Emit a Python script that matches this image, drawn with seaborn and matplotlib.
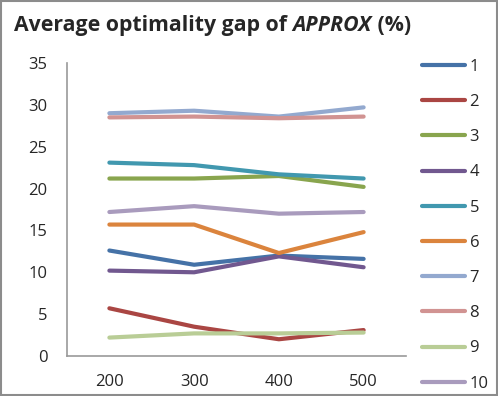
import pandas as pd
import matplotlib
matplotlib.use("Agg")
import matplotlib.pyplot as plt
import seaborn as sns

sizes = ["200", "300", "400", "500"]
series = ["1", "2", "3", "4", "5", "6", "7", "8", "9", "10"]
gap_1 = [12.6, 10.9, 12.0, 11.6]
gap_2 = [5.7, 3.5, 2.0, 3.1]
gap_3 = [21.2, 21.2, 21.5, 20.2]
gap_4 = [10.2, 10.0, 11.9, 10.6]
gap_5 = [23.1, 22.8, 21.7, 21.2]
gap_6 = [15.7, 15.7, 12.3, 14.8]
gap_7 = [29.0, 29.3, 28.6, 29.7]
gap_8 = [28.5, 28.6, 28.4, 28.6]
gap_9 = [2.2, 2.7, 2.7, 2.8]
gap_10 = [17.2, 17.9, 17.0, 17.2]
colores = ["#4572A7", "#AA4643", "#89A54E", "#71588F", "#4198AF",
           "#DB843D", "#93A9CF", "#D19392", "#B9CD96", "#A99BBD"]

todos = [gap_1, gap_2, gap_3, gap_4, gap_5, gap_6, gap_7, gap_8, gap_9, gap_10]
filas = []
for s, vals in zip(series, todos):
    for x, v in zip(sizes, vals):
        filas.append({"size": x, "gap": v, "serie": s})
df = pd.DataFrame(filas)

sns.set_style("white")
plt.rcParams["font.family"] = ["Open Sans", "DejaVu Sans"]

fig = plt.figure(figsize=(4.98, 3.96), dpi=100)
ax = fig.add_axes([67 / 498, 1 - 356 / 396, 339 / 498, 293 / 396])

sns.lineplot(data=df, x="size", y="gap", hue="serie", hue_order=series,
             palette=colores, linewidth=3, sort=False, ax=ax)

ax.set_xlim(-0.5, 3.5)
ax.set_ylim(0, 35)
ax.set_yticks(range(0, 36, 5))
ax.tick_params(axis="both", length=0, labelsize=12, pad=14)
ax.tick_params(axis="x", pad=13)
ax.set_xlabel("")
ax.set_ylabel("")
for lado in ["top", "right"]:
    ax.spines[lado].set_visible(False)
for lado in ["left", "bottom"]:
    ax.spines[lado].set_color("#999999")
    ax.spines[lado].set_linewidth(1.2)

for ln in ax.get_lines():
    ln.set_solid_capstyle("round")

leg = ax.legend(loc="upper left", bbox_to_anchor=(422 / 498, 1 - 59 / 396),
                bbox_transform=fig.transFigure, frameon=False, fontsize=12,
                handlelength=2.6, handletextpad=0.25, labelspacing=1.15,
                borderaxespad=0, borderpad=0)
for h in leg.get_lines():
    h.set_linewidth(3)
    h.set_solid_capstyle("round")

# titulo en tres piezas: normal, cursiva, normal
t1 = fig.text(14 / 498, 1 - 31 / 396, "Average optimality gap of ",
              fontsize=15.3, fontweight="bold")
t2 = ax.annotate("APPROX", xy=(1, 0), xycoords=t1, fontsize=15.3,
                 fontweight="bold", fontstyle="italic", va="bottom")
t3 = ax.annotate(" (%)", xy=(1, 0), xycoords=t2, fontsize=15.3,
                 fontweight="bold", va="bottom")

# marco exterior
fig.patches.append(plt.Rectangle((0.002, 0.002), 0.996, 0.996,
                                 transform=fig.transFigure, fill=False,
                                 edgecolor="#8C8C8C", linewidth=1.5))

fig.savefig("out.png", dpi=100)
